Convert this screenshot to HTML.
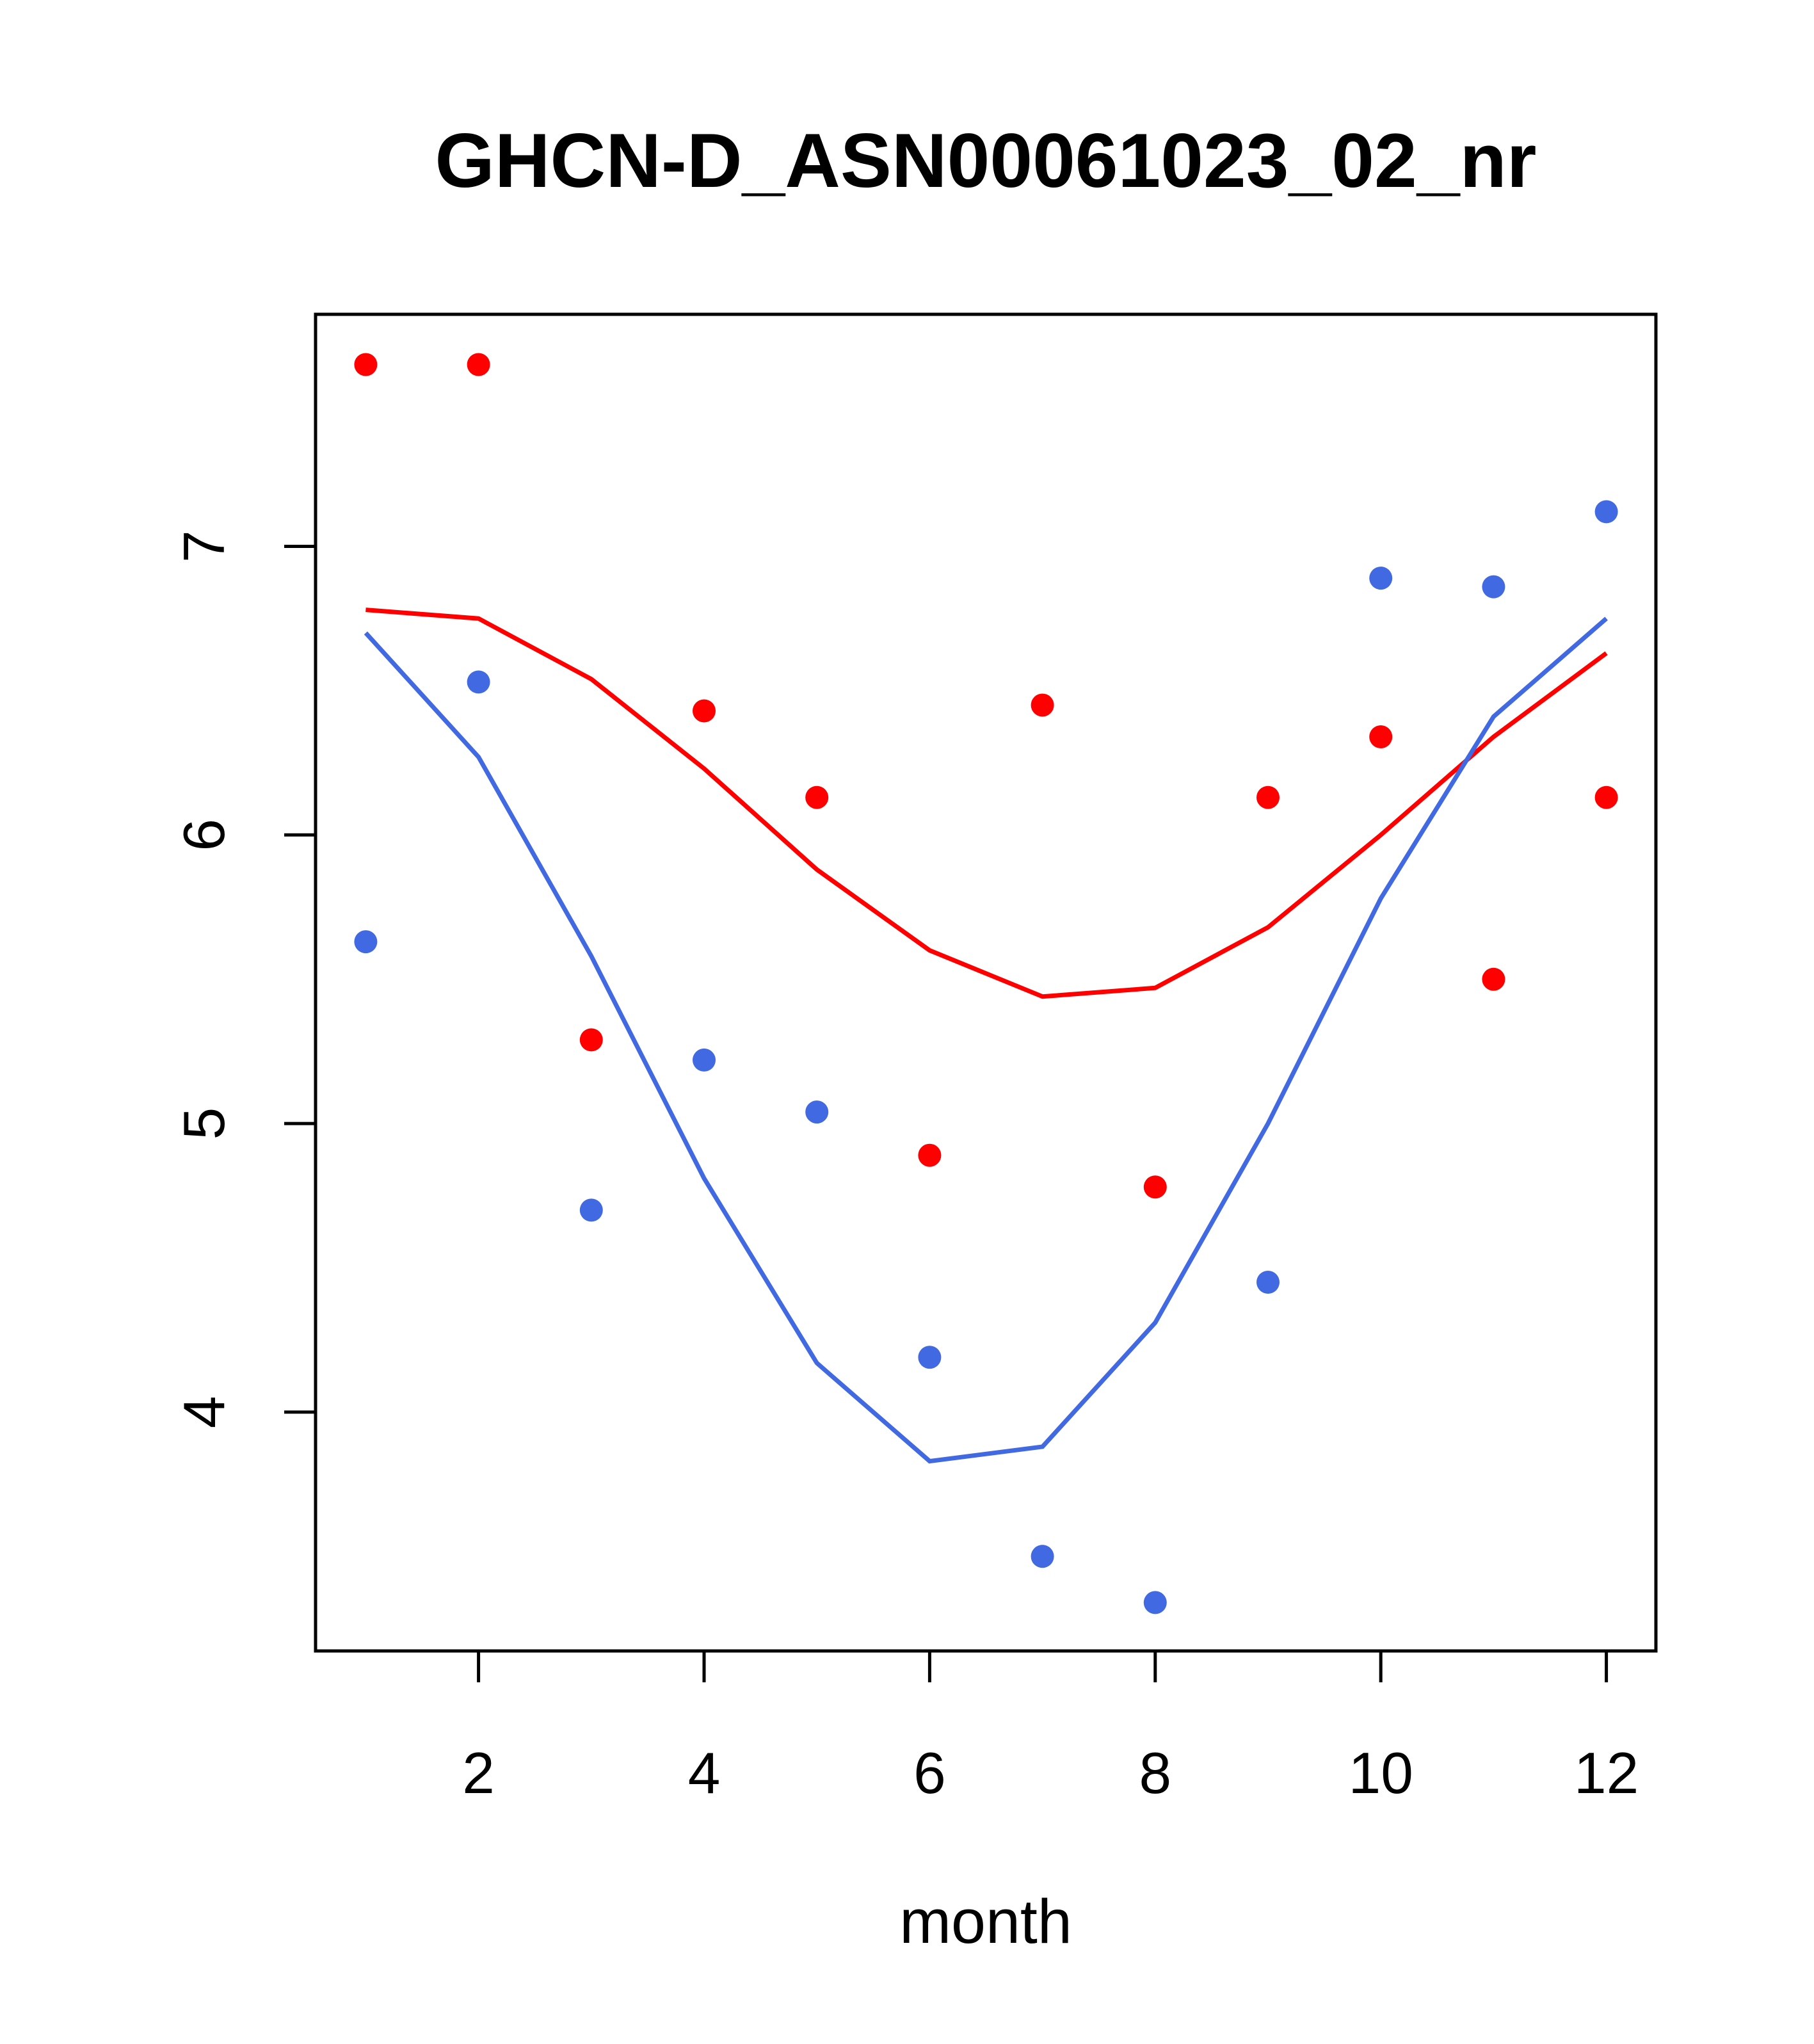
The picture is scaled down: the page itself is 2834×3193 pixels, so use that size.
<!DOCTYPE html>
<html><head><meta charset="utf-8"><style>html,body{margin:0;padding:0;background:#fff}</style></head>
<body>
<svg id="chart" width="2834" height="3188" xmlns="http://www.w3.org/2000/svg" font-family="Liberation Sans, Arial, sans-serif">
<rect width="2834" height="3188" fill="#fff"/>
<text x="1540" y="292" font-size="120" font-weight="bold" text-anchor="middle">GHCN-D_ASN00061023_02_nr</text>
<rect x="493" y="491" width="2094" height="2088" fill="none" stroke="#000" stroke-width="5"/>
<text x="1540" y="3035" font-size="97" text-anchor="middle">month</text>
<g id="axes"></g><g id="series"></g>
</svg>
<script>
const months = [1,2,3,4,5,6,7,8,9,10,11,12];
const redPoints = [7.63,7.63,5.29,6.43,6.13,4.89,6.45,4.78,6.13,6.34,5.50,6.13];
const bluePoints = [5.63,6.53,4.70,5.22,5.04,4.19,3.50,3.34,4.45,6.89,6.86,7.12];
const redLine = [6.78,6.75,6.54,6.23,5.88,5.60,5.44,5.47,5.68,6.00,6.34,6.63];
const blueLine = [6.70,6.27,5.58,4.81,4.17,3.83,3.88,4.31,5.00,5.78,6.41,6.75];
const xTicks = [2,4,6,8,10,12];
const yTicks = [4,5,6,7];
const NS='http://www.w3.org/2000/svg';
function xs(m){return 571.4+(m-1)*176.2;}
function ys(v){return 853.5+(7-v)*450.8;}
const axes=document.getElementById('axes'), ser=document.getElementById('series');
function mk(tag,attrs,parent){const e=document.createElementNS(NS,tag);for(const k in attrs)e.setAttribute(k,attrs[k]);parent.appendChild(e);return e;}
let xl=mk('line',{x1:xs(2),x2:xs(12),y1:2579,y2:2579,stroke:'#000','stroke-width':5},axes);


xTicks.forEach(t=>{
  const l=mk('line',{x1:xs(t),x2:xs(t),y1:2579,y2:2628,stroke:'#000','stroke-width':5},axes);
  
  
  const tx=mk('text',{x:xs(t),y:2801,'font-size':91,'text-anchor':'middle'},axes);tx.textContent=t;
  
  
});
let yl=mk('line',{x1:493,x2:493,y1:ys(4),y2:ys(7),stroke:'#000','stroke-width':5},axes);


yTicks.forEach(t=>{
  const l=mk('line',{x1:444,x2:493,y1:ys(t),y2:ys(t),stroke:'#000','stroke-width':5},axes);
  
  
  const tx=mk('text',{x:0,y:0,'font-size':91,'text-anchor':'middle',transform:`translate(350,${ys(t)}) rotate(-90)`},axes);tx.textContent=t;
  
  
});
function line(vals,col,name){
  const p=mk('polyline',{points:vals.map((v,i)=>xs(months[i])+','+ys(v)).join(' '),fill:'none',stroke:col,'stroke-width':7},ser);
  
  
}
function pts(vals,col,name){
  vals.forEach((v,i)=>{
    const c=mk('circle',{cx:xs(months[i]),cy:ys(v),r:18,fill:col},ser);
    
    
  });
}
line(redLine,'#ff0000','red-fit-line');
line(blueLine,'#4169e1','blue-fit-line');
pts(redPoints,'#ff0000','red-point');
pts(bluePoints,'#4169e1','blue-point');
</script>
</body></html>
